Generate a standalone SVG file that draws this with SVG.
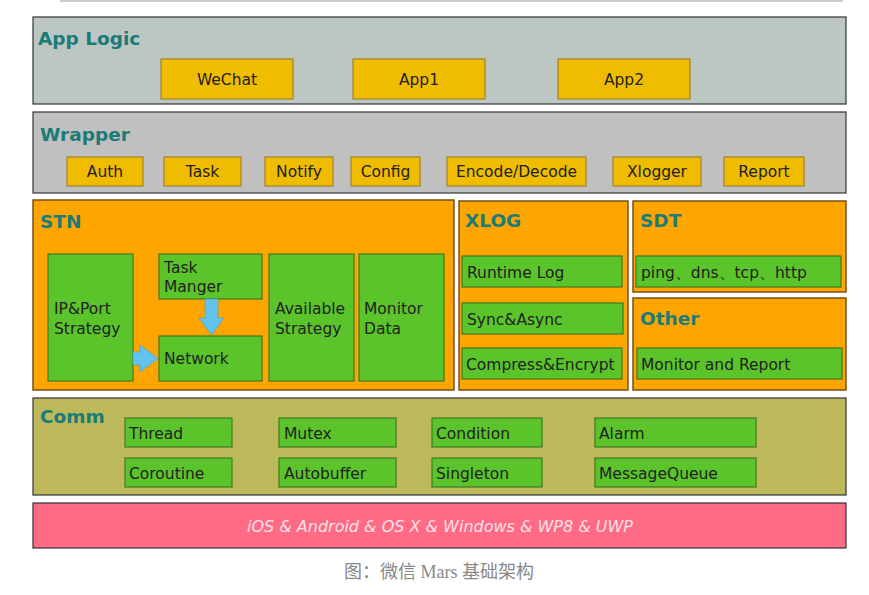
<svg xmlns="http://www.w3.org/2000/svg" width="869" height="595" viewBox="0 0 869 595">
<style>
  text { font-family: "DejaVu Sans", Verdana, sans-serif; }
  .title { font-size: 18.5px; font-weight: bold; fill: #1b7b78; }
  .lbl { font-size: 15.5px; fill: #222; }
  .ctr { text-anchor: middle; }
  .layer { stroke: #333; stroke-width: 1.2; }
  .yel { fill: #f0bc00; stroke: #a2822a; stroke-width: 1.2; }
  .grn { fill: #5ac42a; stroke: #3f7a22; stroke-width: 1.2; }
  .org { fill: #ffa500; stroke: #7a4e1e; stroke-width: 1.5; }
  .arrow { fill: #62c4ee; stroke: #3aa0d0; stroke-width: 0.6; }
</style>
<rect x="0" y="0" width="869" height="595" fill="#ffffff"/>
<rect x="60" y="0" width="783" height="2" fill="#cccccc"/>

<g id="app-logic">
  <rect class="layer" x="33" y="17" width="813" height="87" fill="#bcc7c4"/>
  <text class="title" x="38" y="45">App Logic</text>
</g>
<g id="wechat"><rect class="yel" x="161" y="59" width="132" height="40"/><text class="lbl ctr" x="227" y="85">WeChat</text></g>
<g id="app1"><rect class="yel" x="353" y="59" width="132" height="40"/><text class="lbl ctr" x="419" y="85">App1</text></g>
<g id="app2"><rect class="yel" x="558" y="59" width="132" height="40"/><text class="lbl ctr" x="624" y="85">App2</text></g>

<g id="wrapper">
  <rect class="layer" x="33" y="112" width="813" height="81" fill="#c0c0c0"/>
  <text class="title" x="40" y="141">Wrapper</text>
</g>
<g id="auth"><rect class="yel" x="67" y="157" width="76" height="29"/><text class="lbl ctr" x="105" y="177">Auth</text></g>
<g id="task"><rect class="yel" x="164" y="157" width="77" height="29"/><text class="lbl ctr" x="202.5" y="177">Task</text></g>
<g id="notify"><rect class="yel" x="265" y="157" width="68" height="29"/><text class="lbl ctr" x="299" y="177">Notify</text></g>
<g id="config"><rect class="yel" x="351" y="157" width="69" height="29"/><text class="lbl ctr" x="385.5" y="177">Config</text></g>
<g id="encode-decode"><rect class="yel" x="447" y="157" width="139" height="29"/><text class="lbl ctr" x="516.5" y="177">Encode/Decode</text></g>
<g id="xlogger"><rect class="yel" x="613" y="157" width="88" height="29"/><text class="lbl ctr" x="657" y="177">Xlogger</text></g>
<g id="report"><rect class="yel" x="724" y="157" width="80" height="29"/><text class="lbl ctr" x="764" y="177">Report</text></g>

<g id="stn">
  <rect class="org" x="33" y="200" width="421" height="190"/>
  <text class="title" x="40" y="228">STN</text>
</g>
<g id="ip-port-strategy"><rect class="grn" x="48" y="254" width="85" height="127"/><text class="lbl" x="54" y="314">IP&amp;Port</text><text class="lbl" x="54" y="334">Strategy</text></g>
<g id="task-manger"><rect class="grn" x="159" y="254" width="103" height="45"/><text class="lbl" x="164" y="273">Task</text><text class="lbl" x="164" y="292">Manger</text></g>
<g id="network"><rect class="grn" x="159" y="336" width="103" height="45"/><text class="lbl" x="164" y="364">Network</text></g>
<g id="available-strategy"><rect class="grn" x="269" y="254" width="85" height="127"/><text class="lbl" x="275" y="314">Available</text><text class="lbl" x="275" y="334">Strategy</text></g>
<g id="monitor-data"><rect class="grn" x="359" y="254" width="85" height="127"/><text class="lbl" x="364" y="314">Monitor</text><text class="lbl" x="364" y="334">Data</text></g>

<g id="xlog">
  <rect class="org" x="459" y="201" width="169" height="189"/>
  <text class="title" x="465" y="227">XLOG</text>
</g>
<g id="runtime-log"><rect class="grn" x="462" y="256" width="160" height="31"/><text class="lbl" x="467" y="278">Runtime Log</text></g>
<g id="sync-async"><rect class="grn" x="462" y="303" width="161" height="31"/><text class="lbl" x="467" y="325">Sync&amp;Async</text></g>
<g id="compress-encrypt"><rect class="grn" x="462" y="348" width="160" height="31"/><text class="lbl" x="466" y="370">Compress&amp;Encrypt</text></g>

<g id="sdt">
  <rect class="org" x="633" y="201" width="213" height="91"/>
  <text class="title" x="640" y="227">SDT</text>
</g>
<g id="ping-dns-tcp-http"><rect class="grn" x="636" y="256" width="205" height="31"/><text class="lbl" x="641" y="278">ping、dns、tcp、http</text></g>

<g id="other">
  <rect class="org" x="633" y="298" width="213" height="92"/>
  <text class="title" x="640" y="325">Other</text>
</g>
<g id="monitor-and-report"><rect class="grn" x="637" y="348" width="205" height="31"/><text class="lbl" x="641" y="370">Monitor and Report</text></g>

<g id="comm">
  <rect class="layer" x="33" y="398" width="813" height="97" fill="#bdb95b"/>
  <text class="title" x="40" y="423">Comm</text>
</g>
<g id="thread"><rect class="grn" x="125" y="418" width="107" height="29"/><text class="lbl" x="129" y="439">Thread</text></g>
<g id="coroutine"><rect class="grn" x="125" y="458" width="107" height="29"/><text class="lbl" x="129" y="479">Coroutine</text></g>
<g id="mutex"><rect class="grn" x="279" y="418" width="117" height="29"/><text class="lbl" x="284" y="439">Mutex</text></g>
<g id="autobuffer"><rect class="grn" x="279" y="458" width="117" height="29"/><text class="lbl" x="284" y="479">Autobuffer</text></g>
<g id="condition"><rect class="grn" x="432" y="418" width="110" height="29"/><text class="lbl" x="436" y="439">Condition</text></g>
<g id="singleton"><rect class="grn" x="432" y="458" width="110" height="29"/><text class="lbl" x="436" y="479">Singleton</text></g>
<g id="alarm"><rect class="grn" x="595" y="418" width="161" height="29"/><text class="lbl" x="599" y="439">Alarm</text></g>
<g id="messagequeue"><rect class="grn" x="595" y="458" width="161" height="29"/><text class="lbl" x="599" y="479">MessageQueue</text></g>

<g id="platforms">
  <rect class="layer" x="33" y="503" width="813" height="45" fill="#ff6b84"/>
  <text x="440" y="532" text-anchor="middle" style="font-size:16px;font-style:italic;fill:#fde0e8">iOS &amp; Android &amp; OS X &amp; Windows &amp; WP8 &amp; UWP</text>
</g>

<g id="connectors">
  <polygon class="arrow" points="205,299 218,299 218,318 224,318 211.5,335 199,318 205,318"/>
  <polygon class="arrow" points="133,352 140,352 140,345 158,358.5 140,372 140,365 133,365"/>
</g>

<text x="439" y="578" text-anchor="middle" style="font-family:'Liberation Serif','Noto Sans CJK SC',serif;font-size:18px;fill:#888888">图：微信 Mars 基础架构</text>
</svg>
